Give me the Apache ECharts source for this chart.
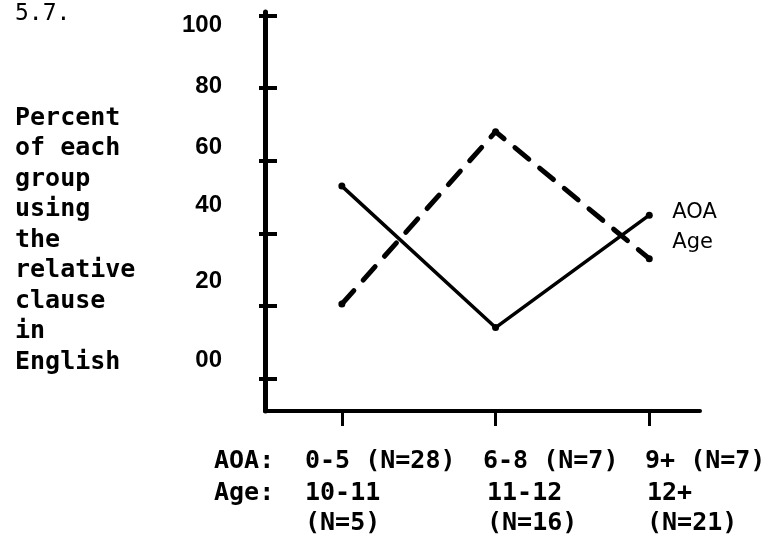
<!DOCTYPE html>
<html>
<head>
<meta charset="utf-8">
<title>5.7</title>
<script src="https://cdn.jsdelivr.net/npm/echarts@6/dist/echarts.min.js"></script>
<style>
  html, body { margin: 0; padding: 0; background: #fff; }
  #chart { width: 770px; height: 554px; }
</style>
</head>
<body>
<div id="chart"></div>
<script>
// values
const groupPos = [1, 2, 3];
const aoaGroups = ['0-5', '6-8', '9+'];
const aoaN = [28, 7, 7];
const ageGroups = ['10-11', '11-12', '12+'];
const ageN = [5, 16, 21];
const aoaPercent = [53, 14, 45];
const agePercent = [20.5, 68, 33];
const yTicks = [0, 20, 40, 60, 80, 100];
const yTickLabels = ['00', '20', '40', '60', '80', '100'];
const yTitle = ['Percent', 'of each', 'group', 'using', 'the', 'relative', 'clause', 'in', 'English'];

const mono = '"DejaVu Sans Mono", monospace';
const sans = '"Liberation Sans", Arial, sans-serif';

// typed labels in the original sit a little off the ticks
const yLabelTop = [360, 281, 205, 147, 86, 25];
const colLeft = [305, 483, 645];
const colLeftAge = [305, 487, 647];

function textEl(text, x, y, font, align) {
  return {
    type: 'text',
    x: x,
    y: y,
    silent: true,
    style: {
      text: text,
      font: font,
      fill: '#000',
      textAlign: align || 'left',
      textVerticalAlign: 'middle'
    }
  };
}

function buildGraphic() {
  const items = [];
  items.push(textEl('5.7.', 15, 14, 'normal 23px ' + mono));
  items.push({
    type: 'text',
    x: 15,
    y: 103,
    silent: true,
    style: {
      text: yTitle.join('\n'),
      font: 'bold 25px ' + mono,
      lineHeight: 30.5,
      fill: '#000',
      textAlign: 'left',
      textVerticalAlign: 'top'
    }
  });
  yTickLabels.forEach((t, i) => {
    items.push(textEl(t, 222, yLabelTop[i], 'bold 24px ' + sans, 'right'));
  });
  // table under the x axis
  items.push(textEl('AOA:', 214, 461, 'bold 25px ' + mono));
  items.push(textEl('Age:', 214, 493, 'bold 25px ' + mono));
  aoaGroups.forEach((g, i) => {
    items.push(textEl(g + ' (N=' + aoaN[i] + ')', colLeft[i], 461, 'bold 25px ' + mono));
  });
  ageGroups.forEach((g, i) => {
    items.push(textEl(g, colLeftAge[i], 493, 'bold 25px ' + mono));
    items.push(textEl('(N=' + ageN[i] + ')', colLeftAge[i], 523, 'bold 25px ' + mono));
  });
  return items;
}

const chart = echarts.init(document.getElementById('chart'), null, { renderer: 'canvas' });

chart.setOption({
  animation: false,
  backgroundColor: '#fff',
  grid: { left: 265, right: 70, top: 12, bottom: 143 },
  xAxis: {
    type: 'value',
    min: 0.5,
    max: 3.33,
    axisLine: { onZero: false, lineStyle: { color: '#000', width: 4 } },
    axisTick: { customValues: groupPos, length: 15, lineStyle: { color: '#000', width: 3 } },
    axisLabel: { show: false },
    splitLine: { show: false }
  },
  yAxis: [
    {
      type: 'value',
      min: -9,
      max: 101,
      axisLine: { show: true, onZero: false, lineStyle: { color: '#000', width: 5 } },
      axisTick: { show: true, inside: true, customValues: yTicks, length: 12, lineStyle: { color: '#000', width: 4 } },
      axisLabel: { show: false },
      splitLine: { show: false }
    },
    {
      type: 'value',
      position: 'left',
      min: -9,
      max: 101,
      axisLine: { show: false },
      axisTick: { show: true, customValues: yTicks, length: 6, lineStyle: { color: '#000', width: 4 } },
      axisLabel: { show: false },
      splitLine: { show: false }
    }
  ],
  series: [
    {
      name: 'AOA',
      type: 'line',
      data: groupPos.map((x, i) => [x, aoaPercent[i]]),
      symbol: 'circle',
      symbolSize: 7,
      itemStyle: { color: '#000' },
      lineStyle: { color: '#000', width: 3.5, cap: 'round', join: 'round' },
      endLabel: {
        show: true,
        formatter: '{a}',
        distance: 23,
        offset: [0, -3],
        color: '#000',
        fontFamily: 'DejaVu Sans',
        fontSize: 21
      },
      silent: true
    },
    {
      name: 'Age',
      type: 'line',
      data: groupPos.map((x, i) => [x, agePercent[i]]),
      symbol: 'circle',
      symbolSize: 7,
      itemStyle: { color: '#000' },
      lineStyle: { color: '#000', width: 5, type: [18, 14], cap: 'round', join: 'round' },
      endLabel: {
        show: true,
        formatter: '{a}',
        distance: 23,
        offset: [0, -16],
        color: '#000',
        fontFamily: 'DejaVu Sans',
        fontSize: 21
      },
      silent: true
    }
  ],
  graphic: buildGraphic()
});
</script>
</body>
</html>
